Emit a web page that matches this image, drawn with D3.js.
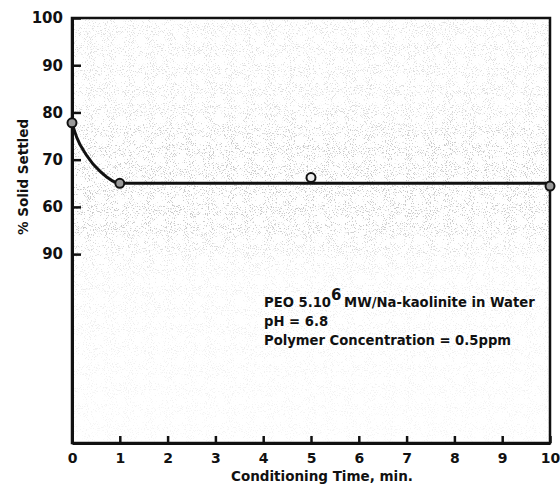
<!DOCTYPE html>
<html>
<head>
<meta charset="utf-8">
<script src="https://cdn.jsdelivr.net/npm/d3@7"></script>
<style>
  body { margin: 0; background: #fff; }
  svg { display: block; }
</style>
</head>
<body>
<div id="svg-container"></div>
<script>
// measured points
const timeMin = [0, 1, 5, 10]
const solidSettled = [77.8, 65, 66.2, 64.4]

// hand drawn fit curve
const fitTime = [0, 0.1, 0.3, 0.6, 1, 10]
const fitValue = [77.8, 74.7, 71.0, 67.4, 65, 65]

// tick labels
const xTicks = [0, 1, 2, 3, 4, 5, 6, 7, 8, 9, 10]
const yTicks = [100, 90, 80, 70, 60, 50]
const yTickLabels = ['100', '90', '80', '70', '60', '90'] // as printed

const noteLines = ['MW/Na-kaolinite in Water', 'pH = 6.8', 'Polymer Concentration = 0.5ppm']

const width = 560
const height = 485
const marginTop = 18
const marginLeft = 72
const marginRight = 10
const marginBottom = 42

const coreW = width - marginLeft - marginRight
const coreH = height - marginTop - marginBottom

const labelFont = 'bold 13.5px "DejaVu Sans", sans-serif'

const svg = d3
  .select('#svg-container')
  .append('svg')
  .attr('width', width)
  .attr('height', height)
  .attr('viewBox', `0 0 ${width} ${height}`)

const defs = svg.append('defs')

// speckle texture of the scanned paper
const grain = defs
  .append('filter')
  .attr('id', 'grain')
  .attr('x', 0)
  .attr('y', 0)
  .attr('width', '100%')
  .attr('height', '100%')
grain
  .append('feTurbulence')
  .attr('type', 'fractalNoise')
  .attr('baseFrequency', 0.95)
  .attr('numOctaves', 2)
  .attr('seed', 7)
  .attr('result', 'noise')
grain
  .append('feColorMatrix')
  .attr('in', 'noise')
  .attr('type', 'matrix')
  .attr('values', '0 0 0 0 0.45  0 0 0 0 0.45  0 0 0 0 0.45  10 0 0 0 -5.9')

const fade = defs
  .append('linearGradient')
  .attr('id', 'fade')
  .attr('x1', 0)
  .attr('y1', 0)
  .attr('x2', 0)
  .attr('y2', 1)
;[
  [0, 0.4],
  [0.2, 0.45],
  [0.3, 0.7],
  [0.48, 0.7],
  [0.6, 0.25],
  [1, 0.12],
].forEach(([o, a]) =>
  fade.append('stop').attr('offset', o).attr('stop-color', '#fff').attr('stop-opacity', a),
)
const mask = defs.append('mask').attr('id', 'fadeMask')
mask
  .append('rect')
  .attr('x', marginLeft)
  .attr('y', marginTop)
  .attr('width', coreW)
  .attr('height', coreH)
  .attr('fill', 'url(#fade)')

const x = d3.scaleLinear().domain([0, 10]).range([marginLeft, marginLeft + coreW])
const y = d3.scaleLinear().domain([10, 100]).range([marginTop + coreH, marginTop])

svg
  .append('rect')
  .attr('x', marginLeft)
  .attr('y', marginTop)
  .attr('width', coreW)
  .attr('height', coreH)
  .attr('fill', '#fff')
  .attr('filter', 'url(#grain)')
  .attr('mask', 'url(#fadeMask)')

// frame
svg
  .append('rect')
  .attr('x', marginLeft)
  .attr('y', marginTop)
  .attr('width', coreW)
  .attr('height', coreH)
  .attr('fill', 'none')
  .attr('stroke', '#111')
  .attr('stroke-width', 2.5)

const xAxis = svg
  .append('g')
  .attr('transform', `translate(0, ${marginTop + coreH})`)
  .call(
    d3
      .axisBottom(x)
      .tickValues(xTicks)
      .tickSizeInner(-7)
      .tickSizeOuter(0)
      .tickPadding(10)
      .tickFormat(d3.format('d')),
  )
xAxis.select('.domain').attr('stroke', '#111').attr('stroke-width', 3)
xAxis.selectAll('.tick line').attr('stroke', '#111').attr('stroke-width', 2.5)
xAxis
  .selectAll('.tick text')
  .attr('fill', '#111')
  .style('font', 'bold 14px "DejaVu Sans", sans-serif')

const yAxis = svg
  .append('g')
  .attr('transform', `translate(${marginLeft}, 0)`)
  .call(
    d3
      .axisLeft(y)
      .tickValues(yTicks)
      .tickSizeInner(-9)
      .tickSizeOuter(0)
      .tickPadding(9)
      .tickFormat((d, i) => yTickLabels[i]),
  )
yAxis.select('.domain').attr('stroke', '#111').attr('stroke-width', 3)
yAxis.selectAll('.tick line').attr('stroke', '#111').attr('stroke-width', 2.5)
yAxis
  .selectAll('.tick text')
  .attr('fill', '#111')
  .style('font', 'bold 15px "DejaVu Sans", sans-serif')

// axis titles
svg
  .append('text')
  .attr('transform', `translate(28, ${marginTop + 159}) rotate(-90)`)
  .attr('text-anchor', 'middle')
  .attr('fill', '#111')
  .style('font', labelFont)
  .text('% Solid Settled')

svg
  .append('text')
  .attr('x', 322)
  .attr('y', 481)
  .attr('text-anchor', 'middle')
  .attr('fill', '#111')
  .style('font', labelFont)
  .text('Conditioning Time, min.')

// fitted curve
const line = d3
  .line()
  .curve(d3.curveMonotoneX)
  .x(d => x(d[0]))
  .y(d => y(d[1]))

svg
  .append('path')
  .datum(d3.zip(fitTime, fitValue))
  .attr('d', line)
  .attr('fill', 'none')
  .attr('stroke', '#111')
  .attr('stroke-width', 3)

svg
  .append('g')
  .selectAll('circle')
  .data(d3.zip(timeMin, solidSettled))
  .join('circle')
  .attr('cx', d => x(d[0]))
  .attr('cy', d => y(d[1]))
  .attr('r', 4.5)
  .attr('fill', (d, i) => (i === 2 ? '#eee' : '#999'))
  .attr('stroke', '#111')
  .attr('stroke-width', 2)

// annotation
const note = svg
  .append('g')
  .attr('fill', '#111')
  .style('font', 'bold 13.2px "DejaVu Sans", sans-serif')

const first = note.append('text').attr('x', 264).attr('y', 307)
first.append('tspan').text('PEO 5.10')
first.append('tspan').attr('dy', -7).style('font-size', '15px').text('6')
first.append('tspan').attr('dy', 7).attr('dx', -2).text(' ' + noteLines[0])

note
  .selectAll('.line')
  .data(noteLines.slice(1))
  .join('text')
  .attr('class', 'line')
  .attr('x', 264)
  .attr('y', (d, i) => 326 + i * 19)
  .text(d => d)
</script>
</body>
</html>
